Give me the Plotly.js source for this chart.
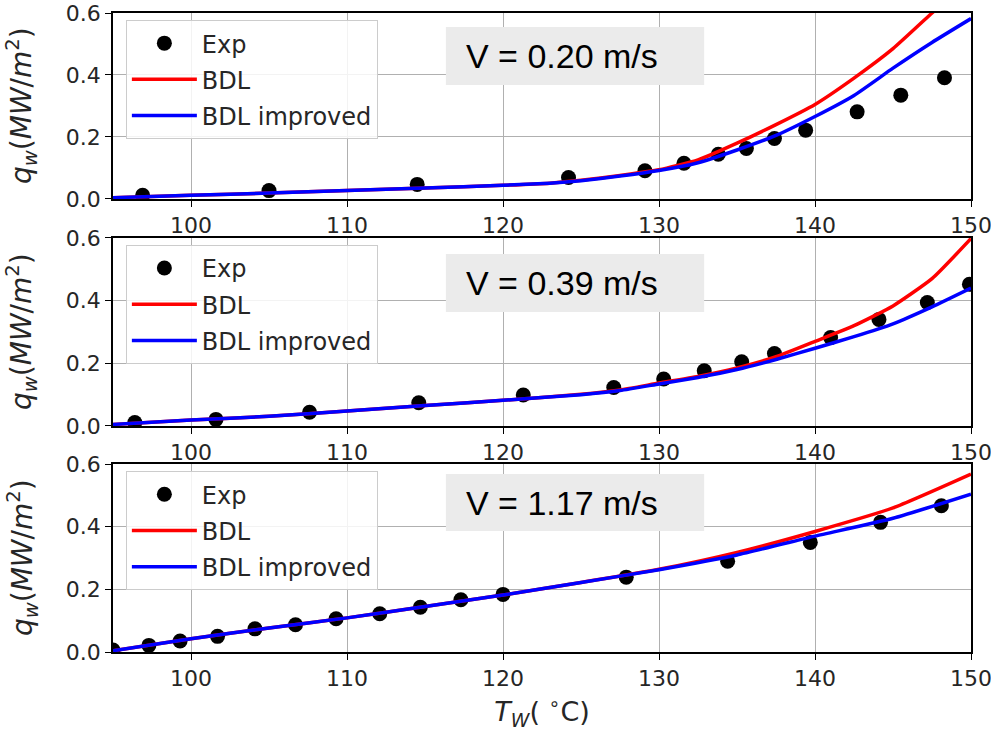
<!DOCTYPE html>
<html>
<head>
<meta charset="utf-8">
<script src="https://cdn.plot.ly/plotly-3.0.1.min.js"></script>
<style>html,body{margin:0;padding:0;background:#fff;}#chart{width:991px;height:735px;}</style>
</head>
<body>
<div id="chart"></div>
<script>
// ---- Data ----
// Panel 1: V = 0.20 m/s
const exp1T = [96.9, 105.0, 114.5, 124.2, 129.1, 131.6, 133.8, 135.6, 137.4, 139.4, 142.7, 145.5, 148.3];
const exp1Q = [0.012, 0.027, 0.047, 0.069, 0.091, 0.115, 0.144, 0.163, 0.195, 0.222, 0.281, 0.335, 0.391];
const mod1T = [95, 100, 105, 110, 115, 120, 123, 125, 127.5, 130, 132.5, 135, 137.5, 140, 142.5, 145, 147.5, 150];
const bdl1Q = [0.004, 0.012, 0.019, 0.027, 0.035, 0.044, 0.051, 0.060, 0.076, 0.094, 0.126, 0.180, 0.240, 0.305, 0.390, 0.485, 0.600, 0.715];
const imp1Q = [0.004, 0.012, 0.019, 0.027, 0.035, 0.044, 0.051, 0.059, 0.074, 0.092, 0.117, 0.158, 0.205, 0.266, 0.334, 0.422, 0.505, 0.582];

// Panel 2: V = 0.39 m/s
const exp2T = [96.4, 101.6, 107.6, 114.6, 121.3, 127.1, 130.3, 132.9, 135.3, 137.4, 141.0, 144.1, 147.2, 149.9];
const exp2Q = [0.011, 0.021, 0.044, 0.074, 0.099, 0.123, 0.150, 0.176, 0.205, 0.231, 0.282, 0.340, 0.394, 0.452];
const mod2T = [95, 100, 105, 110, 115, 120, 125, 127.5, 130, 132.5, 135, 137.5, 140, 142.5, 145, 147.5, 150];
const bdl2Q = [0.005, 0.019, 0.031, 0.048, 0.065, 0.082, 0.101, 0.115, 0.137, 0.158, 0.185, 0.221, 0.270, 0.320, 0.383, 0.470, 0.598];
const imp2Q = [0.005, 0.019, 0.031, 0.048, 0.065, 0.082, 0.100, 0.113, 0.134, 0.155, 0.180, 0.212, 0.248, 0.285, 0.326, 0.380, 0.440];

// Panel 3: V = 1.17 m/s
const exp3T = [95.0, 97.3, 99.3, 101.7, 104.1, 106.7, 109.3, 112.1, 114.7, 117.3, 120.0, 127.9, 134.4, 139.7, 144.2, 148.1];
const exp3Q = [0.006, 0.021, 0.035, 0.050, 0.074, 0.087, 0.106, 0.122, 0.143, 0.167, 0.184, 0.239, 0.290, 0.350, 0.414, 0.467];
const mod3T = [95, 100, 105, 110, 115, 120, 125, 130, 135, 140, 145, 150];
const bdl3Q = [0.004, 0.042, 0.077, 0.109, 0.145, 0.182, 0.222, 0.264, 0.318, 0.385, 0.460, 0.568];
const imp3Q = [0.004, 0.042, 0.077, 0.109, 0.145, 0.182, 0.222, 0.263, 0.310, 0.370, 0.427, 0.504];

const seriesNames = ["Exp", "BDL", "BDL improved"];
const panelLabels = ["V = 0.20 m/s", "V = 0.39 m/s", "V = 1.17 m/s"];
const xTicks = [100, 110, 120, 130, 140, 150];
const yTicks = [0.0, 0.2, 0.4, 0.6];
const yTitleText = "<i>q</i><sub><i>w</i></sub>(<i>MW</i>/<i>m</i><sup>2</sup>)";
const xTitleText = "<i>T</i><sub><i>W</i></sub>( <sup>∘</sup>C)";

const panels = [
  {expT: exp1T, expQ: exp1Q, modT: mod1T, bdl: bdl1Q, imp: imp1Q},
  {expT: exp2T, expQ: exp2Q, modT: mod2T, bdl: bdl2Q, imp: imp2Q},
  {expT: exp3T, expQ: exp3Q, modT: mod3T, bdl: bdl3Q, imp: imp3Q}
];

// ---- Styling ----
const FONT = "DejaVu Sans";
const TXT = "#262626";
const TICKFS = 22;
const LEGFS = 24;
const data = [];
panels.forEach((p, i) => {
  const sfx = i === 0 ? "" : String(i + 1);
  const leg = "legend" + sfx;
  data.push({x: p.expT, y: p.expQ, xaxis: "x" + sfx, yaxis: "y" + sfx, type: "scatter", mode: "markers",
    name: seriesNames[0], legend: leg, legendgroup: "a" + i,
    marker: {color: "black", size: 15}});
  data.push({x: p.modT, y: p.bdl, xaxis: "x" + sfx, yaxis: "y" + sfx, type: "scatter", mode: "lines",
    name: seriesNames[1], legend: leg, legendgroup: "b" + i,
    line: {color: "#ff0000", width: 3.5, shape: "spline", smoothing: 0.5}});
  data.push({x: p.modT, y: p.imp, xaxis: "x" + sfx, yaxis: "y" + sfx, type: "scatter", mode: "lines",
    name: seriesNames[2], legend: leg, legendgroup: "c" + i,
    line: {color: "#0000ff", width: 3.5, shape: "spline", smoothing: 0.5}});
});

const yDomains = [[0.709, 1.0], [0.3537, 0.648], [0.0, 0.294]];
const legendY = [0.989, 0.637, 0.283];
const boxY = [[0.613, 0.925], [0.606, 0.915], [0.644, 0.947]];

const layout = {
  width: 991, height: 735,
  margin: {l: 113, r: 20, t: 13, b: 83},
  paper_bgcolor: "white", plot_bgcolor: "white",
  font: {family: FONT, size: TICKFS, color: TXT},
  showlegend: true,
  shapes: [], annotations: []
};

panels.forEach((p, i) => {
  const sfx = i === 0 ? "" : String(i + 1);
  const xa = "xaxis" + sfx, ya = "yaxis" + sfx;
  layout[xa] = {
    range: [95, 150], tickvals: xTicks, ticktext: xTicks.map(String),
    anchor: "y" + sfx, domain: [0, 1],
    ticks: "outside", ticklen: 6, tickwidth: 1.2, tickcolor: "black",
    showgrid: true, gridcolor: "#b0b0b0", gridwidth: 1,
    showline: true, mirror: true, linecolor: "black", linewidth: 1.5,
    zeroline: false, ticklabeloverflow: "allow",
    tickfont: {family: FONT, size: TICKFS, color: TXT}
  };
  layout[ya] = {
    range: [0, 0.6], tickvals: yTicks, ticktext: yTicks.map(v => v.toFixed(1)),
    anchor: "x" + sfx, domain: yDomains[i],
    ticks: "outside", ticklen: 6, tickwidth: 1.2, tickcolor: "black",
    showgrid: true, gridcolor: "#b0b0b0", gridwidth: 1,
    showline: true, mirror: true, linecolor: "black", linewidth: 1.5,
    zeroline: false, ticklabeloverflow: "allow",
    tickfont: {family: FONT, size: TICKFS, color: TXT}
  };
  layout["legend" + sfx] = {
    x: 0.015, y: legendY[i], xanchor: "left", yanchor: "top",
    bgcolor: "rgba(255,255,255,0.85)", bordercolor: "#cccccc", borderwidth: 1,
    font: {family: FONT, size: LEGFS, color: TXT},
    itemwidth: 65, tracegroupgap: 2, traceorder: "grouped"
  };
  layout.shapes.push({
    type: "rect", xref: "x" + sfx + " domain", yref: "y" + sfx + " domain",
    x0: 0.388, x1: 0.689, y0: boxY[i][0], y1: boxY[i][1],
    fillcolor: "#ebebeb", line: {width: 0}, layer: "above"
  });
  layout.annotations.push({
    xref: "x" + sfx + " domain", yref: "y" + sfx + " domain",
    x: 0.523, y: (boxY[i][0] + boxY[i][1]) / 2, xanchor: "center", yanchor: "middle",
    text: panelLabels[i], showarrow: false,
    font: {family: "Liberation Sans", size: 34, color: "black"}
  });
  // y-axis title placed as a rotated label to the left of the tick labels
  layout.annotations.push({
    xref: "paper", yref: "y" + sfx + " domain",
    x: -0.106, y: 0.5, xanchor: "center", yanchor: "middle",
    text: yTitleText, textangle: -90, showarrow: false,
    font: {family: FONT, size: 28, color: TXT}
  });
});

layout.xaxis3.title = {text: xTitleText, font: {family: FONT, size: 27, color: TXT}, standoff: 12};

Plotly.newPlot("chart", data, layout, {displayModeBar: false, responsive: false});
</script>
</body>
</html>
